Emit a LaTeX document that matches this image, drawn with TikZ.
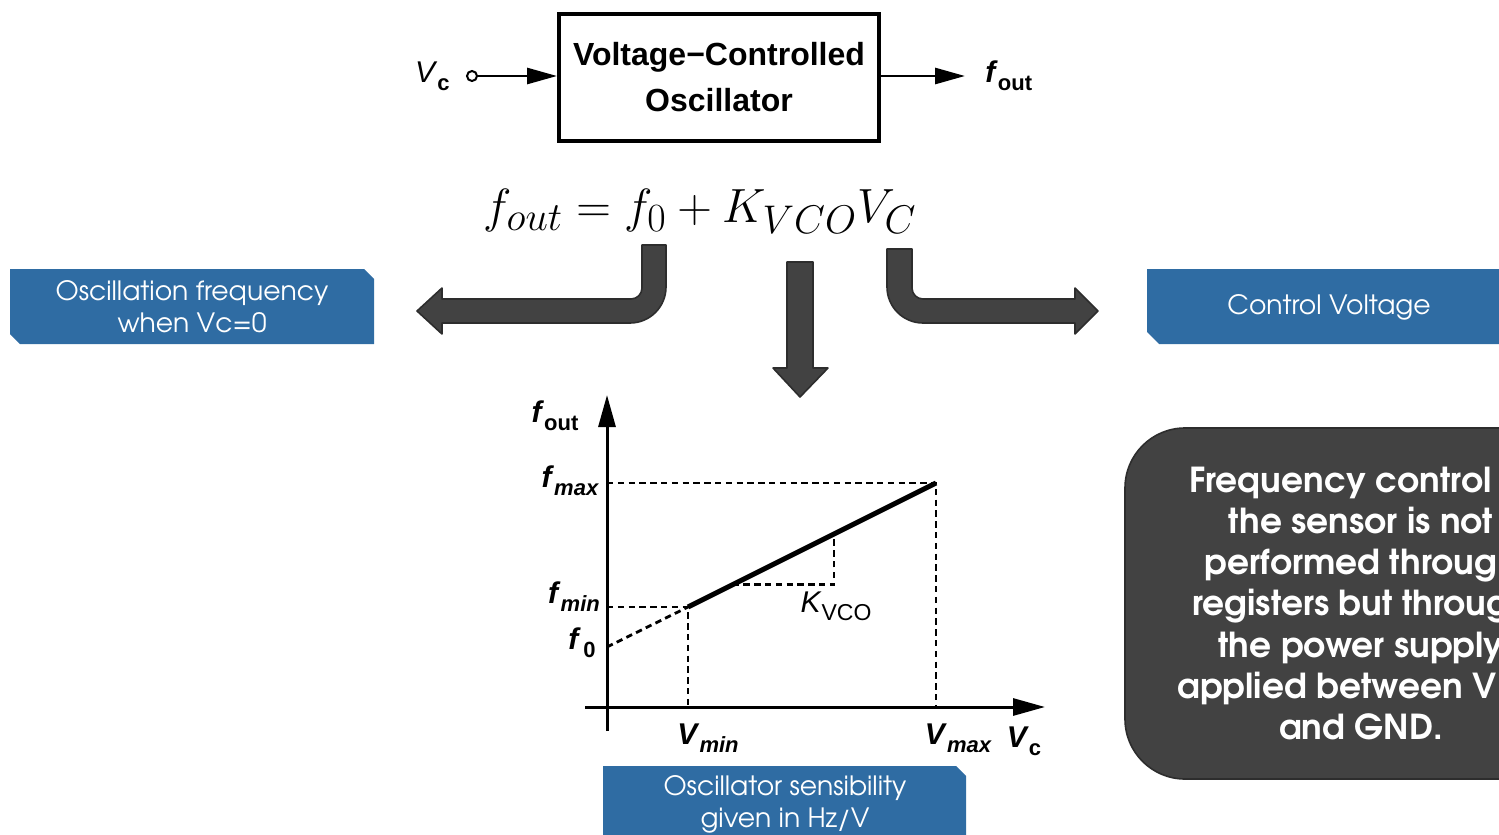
\documentclass[tikz,border=0pt]{standalone}
\usepackage{fontspec}
\setmainfont{Liberation Sans}
\newfontfamily\slidefont{texgyreadventor}[Extension=.otf, UprightFont=*-regular, BoldFont=*-bold]
\usetikzlibrary{arrows.meta,positioning,calc}
\definecolor{slideblue}{RGB}{47,108,163}
\definecolor{slidegray}{RGB}{66,66,66}
\definecolor{slideedge}{RGB}{45,45,45}
\newcommand{\lbit}[2]{\textbf{\textit{#1}}\raisebox{-4pt}{\fontsize{11}{11}\selectfont\bfseries\itshape #2}}
\newcommand{\lbup}[2]{\textbf{\textit{#1}}\raisebox{-4pt}{\fontsize{11}{11}\selectfont\bfseries #2}}
\tikzset{
  blk/.style={draw, line width=2pt, minimum width=160pt, minimum height=63.5pt, align=center, font=\bfseries\fontsize{16}{23}\selectfont},
  port/.style={draw, circle, line width=1pt, minimum size=5pt, inner sep=0pt},
  lbl/.style={inner sep=0pt, font=\fontsize{15}{15}\selectfont},
  tag/.style={text=white, align=center, inner sep=0pt, font=\slidefont\fontsize{13.3}{16}\selectfont},
  note/.style={fill=slidegray, draw=slideedge, line width=0.8pt, rounded corners=30pt, text=white, align=center, font=\slidefont\bfseries\fontsize{17.2}{20.6}\selectfont},
  fat/.style={fill=slidegray, draw=slideedge, line width=0.8pt, line join=round},
  fl/.style={line width=1.4pt, -{Triangle[length=15pt, width=8pt]}},
  ax/.style={line width=1.5pt, -{Triangle[length=16pt, width=8.5pt]}},
  dsh/.style={line width=1.4pt, dash pattern=on 3.2pt off 2.2pt},
}
\begin{document}
\begin{tikzpicture}[x=0.5pt, y=-0.5pt]
\useasboundingbox (0,0) rectangle (1499,835);
\clip (0,0) rectangle (1499,835);
% VCO block
\node[blk] (vco) at (719,77.5) {Voltage−Controlled\\Oscillator};
\node[port] (vin) at (472,76) {};
\node[lbl, left=8pt of vin] (vc) {\textit{V}\raisebox{-4pt}{\fontsize{11}{11}\selectfont\bfseries c}};
\draw[fl] (vin) -- (vin -| vco.west);
\coordinate (fo) at (965,76);
\draw[fl] (vco.east |- fo) -- (fo);
\node[lbl, right=10pt of fo] (fout) {\lbup{f}{out}};
% equation
\node[font=\fontsize{24.88}{29}\selectfont, scale=0.965] (eq) at (700,211) {$f_{out} = f_0 + K_{VCO}V_C$};
% bent arrows
\path[fat] (642,245) -- (666,245) -- (666,287) arc[start angle=0, end angle=-90, radius=18pt]
  -- (442,323) -- (442,334) -- (417,311) -- (442,288) -- (442,299) -- (631,299)
  arc[start angle=-90, end angle=0, radius=5.5pt] -- cycle;
\path[fat] (787,262) -- (813,262) -- (813,368) -- (828,368) -- (800,397) -- (773,368) -- (787,368) -- cycle;
\path[fat] (912,249) -- (887,249) -- (887,287) arc[start angle=180, end angle=270, radius=18pt]
  -- (1075,323) -- (1075,334) -- (1098,311) -- (1075,288) -- (1075,299) -- (923,299)
  arc[start angle=270, end angle=180, radius=5.5pt] -- cycle;
% tags
\fill[slideblue] (10,269) -- (364,269) -- (374,279) -- (374,344) -- (20,344) -- (10,334) -- cycle;
\node[tag] (tf0) at (192,307) {Oscillation frequency\\when Vc=0};
\fill[slideblue] (1147,269) -- (1510,269) -- (1510,344) -- (1159,344) -- (1147,332) -- cycle;
\node[tag] (tvc) at (1329,307) {Control Voltage};
\fill[slideblue] (603,766) -- (956,766) -- (966,776) -- (966,845) -- (603,845) -- cycle;
\node[tag] (tk) at (785,804) {Oscillator sensibility\\given in Hz/V};
% note
\node[note, minimum width=236pt, minimum height=175.5pt] (nt) at (1361,603.5)
  {Frequency control\phantom{ of}\\the sensor is not\\performed throug\phantom{h}\\registers but throug\phantom{h}\\the power supply\\applied between V\phantom{DD}\\and GND.};
% graph
\coordinate (o) at (607,707);
\coordinate (f0) at (607,647);
\coordinate (fmn) at (688,607);
\coordinate (fmx) at (936,483);
\coordinate (ka) at ($(fmn)!0.18!(fmx)$);
\coordinate (kb) at ($(fmn)!0.589!(fmx)$);
\draw[dsh] (o |- fmx) -- (fmx) -- (fmx |- o);
\draw[dsh] (o |- fmn) -- (fmn) -- (fmn |- o);
\draw[dsh] (f0) -- (fmn);
\draw[dsh] (ka) -| (kb);
\draw[line width=2.5pt] (fmn) -- (fmx);
\draw[ax] (607,731) -- (607,395);
\draw[ax] (585,707) -- (1045,707);
\node[lbl] (lfo) at (555,416) {\lbup{f}{out}};
\node[lbl] (lfx) at (570,481) {\lbit{f}{max}};
\node[lbl] (lfn) at (574,597) {\lbit{f}{min}};
\node[lbl] (lf0) at (582,643) {\lbup{f\,}{0}};
\node[lbl] (lvn) at (708,738) {\lbit{V}{min}};
\node[lbl] (lvx) at (958,738) {\lbit{V}{max}};
\node[lbl] (lvc) at (1024,741) {\lbup{V}{c}};
\node[lbl] (lk) at (836,606) {\textit{K}\raisebox{-4pt}{\fontsize{11.5}{11.5}\selectfont VCO}};
\end{tikzpicture}
\end{document}
